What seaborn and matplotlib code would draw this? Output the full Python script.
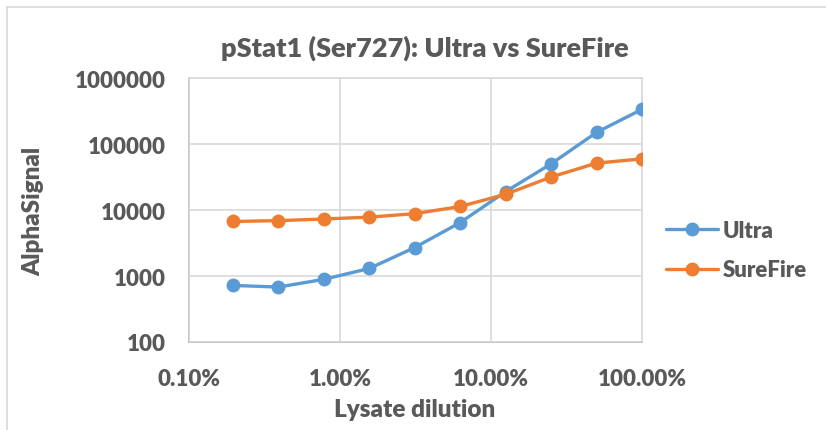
import pandas as pd
import matplotlib.pyplot as plt
import matplotlib.ticker as mticker
from matplotlib.lines import Line2D
import seaborn as sns

# lysate dilution (fraction of lysate) and AlphaSignal
dilution = [0.001953, 0.003906, 0.007813, 0.015625, 0.03125, 0.0625, 0.125, 0.25, 0.5, 1.0]
ultra = [720, 680, 890, 1300, 2700, 6450, 19000, 50000, 150000, 335000]
surefire = [6700, 6900, 7300, 7800, 8800, 11300, 17300, 31600, 51300, 59600]
series_names = ["Ultra", "SureFire"]
x_ticks = [0.001, 0.01, 0.1, 1.0]
y_ticks = [100, 1000, 10000, 100000, 1000000]

df = pd.DataFrame({
    "dilution": dilution * 2,
    "signal": ultra + surefire,
    "series": ["Ultra"] * len(ultra) + ["SureFire"] * len(surefire),
})

sns.set_theme(style="white")
plt.rcParams["font.family"] = ["Lato", "DejaVu Sans"]

TXT = "#595959"
GRID = "#D9D9D9"
WT = "heavy"
palette = {"Ultra": "#5B9BD5", "SureFire": "#ED7D31"}

W, H = 826, 431
fig = plt.figure(figsize=(W / 100, H / 100), dpi=100)
L, R, T, B = 189, 642, 79, 343
ax = fig.add_axes([L / W, 1 - B / H, (R - L) / W, (B - T) / H])

sns.lineplot(data=df, x="dilution", y="signal", hue="series", hue_order=series_names,
             palette=palette, marker="o", markersize=10, markeredgewidth=0,
             linewidth=2.4, ax=ax, legend=False)

ax.set_xscale("log")
ax.set_yscale("log")
ax.set_xlim(0.001, 1.0)
ax.set_ylim(100, 1000000)
ax.set_xticks(x_ticks)
ax.set_yticks(y_ticks)
ax.xaxis.set_minor_locator(mticker.NullLocator())
ax.yaxis.set_minor_locator(mticker.NullLocator())
ax.xaxis.set_major_formatter(mticker.FuncFormatter(lambda v, p: f"{v * 100:.2f}%"))
ax.yaxis.set_major_formatter(mticker.FuncFormatter(lambda v, p: f"{int(round(v))}"))
ax.tick_params(length=0, labelsize=16, labelcolor=TXT)
ax.tick_params(axis="y", pad=17)
ax.tick_params(axis="x", pad=19)
for lab in ax.get_xticklabels() + ax.get_yticklabels():
    lab.set_fontweight(WT)

ax.grid(True, color=GRID, linewidth=1.2)
ax.set_axisbelow(True)
for sp in ax.spines.values():
    sp.set_color(GRID)
    sp.set_linewidth(1.2)
    sp.set_zorder(0)
ax.spines["left"].set_color("#BFBFBF")
ax.spines["bottom"].set_color("#BFBFBF")

ax.set_xlabel("Lysate dilution", fontsize=17.5, fontweight=WT, color=TXT)
ax.set_ylabel("AlphaSignal", fontsize=17.5, fontweight=WT, color=TXT)
ax.xaxis.set_label_coords((415 - L) / (R - L), (B - 410) / (B - T))
ax.yaxis.set_label_coords((33 - L) / (R - L), 0.5)
ax.xaxis.label.set_va("center")
ax.yaxis.label.set_va("center")
fig.text(425 / W, 1 - 48 / H, "pStat1 (Ser727): Ultra vs SureFire", ha="center", va="center",
         fontsize=19.5, fontweight=WT, color=TXT)

handles = [Line2D([], [], color=palette[n], marker="o", markersize=10, markeredgewidth=0,
                  linewidth=2.4) for n in series_names]
leg = fig.legend(handles, series_names, loc="center left", bbox_to_anchor=(666 / W, 1 - 251 / H),
                 frameon=False, borderpad=0, borderaxespad=0, handlelength=2.35,
                 labelspacing=0.85, handletextpad=0.22,
                 prop={"weight": WT, "size": 16})
for t in leg.get_texts():
    t.set_color(TXT)

# chart area outline (top and left edge only, as in the source)
fig.add_artist(Line2D([7 / W, 1], [1 - 8 / H] * 2, color=GRID, linewidth=1.2))
fig.add_artist(Line2D([7 / W] * 2, [0, 1 - 8 / H], color=GRID, linewidth=1.2))

fig.savefig("out.png", dpi=100)
